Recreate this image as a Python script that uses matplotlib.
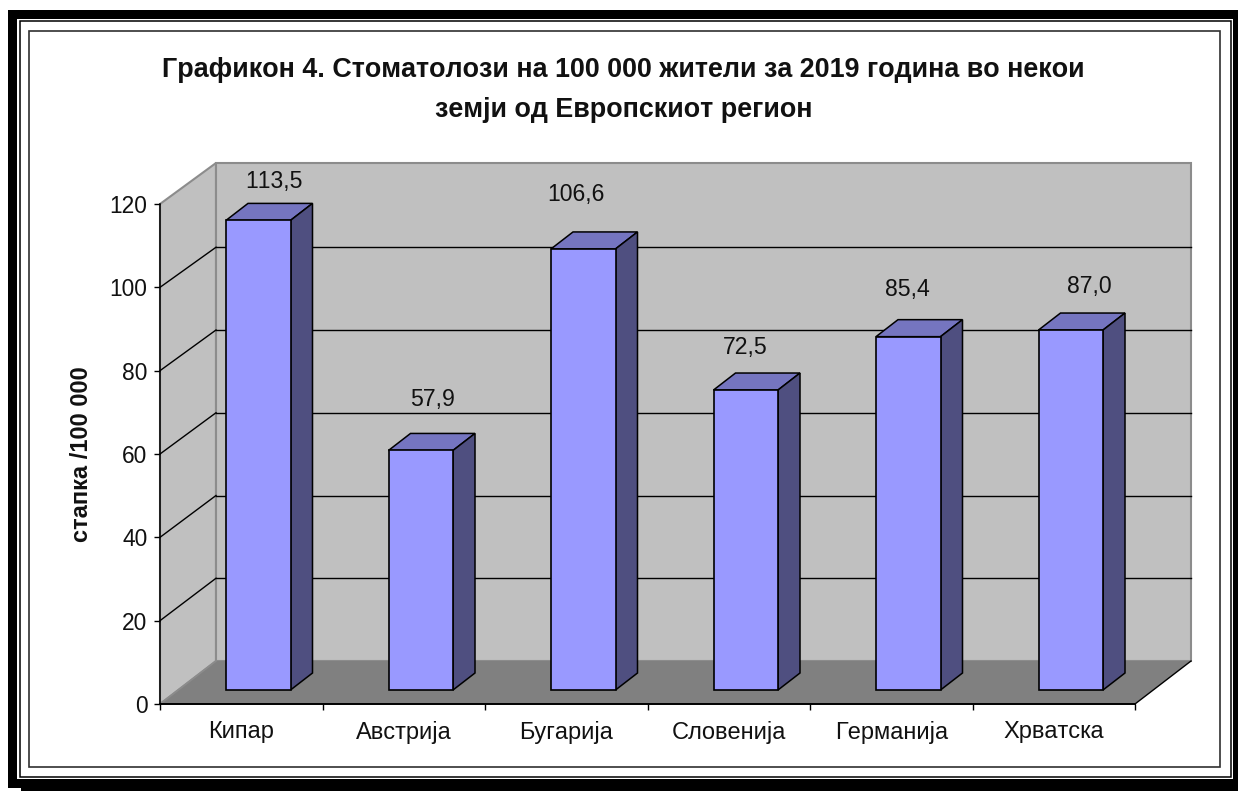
import matplotlib
matplotlib.use("Agg")
import matplotlib.pyplot as plt
from matplotlib.patches import Polygon, Rectangle

countries = ["Кипар", "Австрија", "Бугарија", "Словенија", "Германија", "Хрватска"]
values = [113.5, 57.9, 106.6, 72.5, 85.4, 87.0]
valueLabels = ["113,5", "57,9", "106,6", "72,5", "85,4", "87,0"]
yTicks = [0, 20, 40, 60, 80, 100, 120]

titleText = "Графикон 4. Стоматолози на 100 000 жители за 2019 година во некои\nземји од Европскиот регион"
yLabelText = "стапка /100 000"

# hand placed data labels, pixels relative to the top edge of the bar front
labelShiftX = [16, 12, -7, -1, -1, 19]
labelShiftY = [39, 51, 54, 43, 47, 44]

plt.rcParams["font.family"] = ["Liberation Sans", "DejaVu Sans"]
plt.rcParams["text.kerning_factor"] = 6

W = 1238
H = 791

# plot box in pixels, front plane of the 3d look
left = 160
right = 1135
top = 204
bottom = 704

pxX = (right - left) / 6
pxY = (bottom - top) / 120

wallDx = 56 / pxX
wallDy = 43 / pxY
wallTopDy = 41 / pxY
barW = 64.5 / pxX
barShiftX = 17 / pxX
barShiftY = 14 / pxY
barDx = 22 / pxX
barDy = 17 / pxY
depthScale = 0.993

wallColor = "#c0c0c0"
floorColor = "#808080"
frontColor = "#9999ff"
topColor = "#7575c0"
sideColor = "#4f4f80"
edgeGray = "#8c8c8c"
textColor = "#111111"


def drawFrame(fig):
    bg = fig.add_axes([0, 0, 1, 1])
    bg.set_xlim(0, W)
    bg.set_ylim(H, 0)
    bg.axis("off")

    def box(x0, y0, x1, y1, color):
        bg.add_patch(Rectangle((x0, y0), x1 - x0, y1 - y0, facecolor=color, edgecolor="none"))

    # thick black border with a shadow step at the bottom left
    box(8, 10, 1238, 19.3, "black")
    box(8, 10, 17.3, 788, "black")
    box(21, 779, 1238, 791, "black")
    box(8, 779, 21, 788, "black")
    box(1233, 10, 1238, 791, "black")

    # thin line inside the border
    bg.add_patch(Rectangle((19.8, 21.3), 1210.8, 755.4, facecolor="white", edgecolor="black", linewidth=1.1))
    # chart area
    bg.add_patch(Rectangle((29.2, 30.5), 1190.6, 736.8, facecolor="white", edgecolor="#303030", linewidth=1.2))

    bg.text(623.5, 90, titleText, ha="center", va="center", fontsize=19.4, fontweight="bold",
            color=textColor, linespacing=1.73)
    bg.text(81, 454, yLabelText, ha="center", va="center", rotation=90, fontsize=17,
            fontweight="bold", color=textColor)


def drawWalls(ax):
    n = len(countries)
    ymax = yTicks[-1]

    ax.add_patch(Polygon([(0, 0), (0, ymax), (wallDx, ymax + wallTopDy), (wallDx, wallDy)],
                         facecolor=wallColor, edgecolor=edgeGray, linewidth=1.5, clip_on=False, zorder=1))
    ax.add_patch(Polygon([(wallDx, wallDy), (wallDx, ymax + wallTopDy), (n + wallDx, ymax + wallTopDy), (n + wallDx, wallDy)],
                         facecolor=wallColor, edgecolor=edgeGray, linewidth=1.5, clip_on=False, zorder=1))
    ax.add_patch(Polygon([(0, 0), (n, 0), (n + wallDx, wallDy), (wallDx, wallDy)],
                         facecolor=floorColor, edgecolor="none", clip_on=False, zorder=2))

    ax.plot([0, wallDx], [0, wallDy], color=edgeGray, linewidth=1.2, clip_on=False, zorder=3)
    ax.plot([n, n + wallDx], [0, wallDy], color="black", linewidth=1.0, clip_on=False, zorder=3)

    # gridlines run over the side wall and then along the back
    for v in yTicks[1:-1]:
        back = wallDy + v * depthScale
        ax.plot([0, wallDx], [v, back], color="black", linewidth=1.0, clip_on=False, zorder=3)
        ax.plot([wallDx, n + wallDx], [back, back], color="black", linewidth=1.0, clip_on=False, zorder=3)


def drawBars(ax):
    for i, v in enumerate(values):
        x0 = i + 0.5 + barShiftX - barW / 2
        x1 = x0 + barW
        y0 = barShiftY
        y1 = y0 + v * depthScale

        ax.add_patch(Polygon([(x0, y1), (x1, y1), (x1 + barDx, y1 + barDy), (x0 + barDx, y1 + barDy)],
                             facecolor=topColor, edgecolor="black", linewidth=1.1, clip_on=False, zorder=4))
        ax.add_patch(Polygon([(x1, y0), (x1 + barDx, y0 + barDy), (x1 + barDx, y1 + barDy), (x1, y1)],
                             facecolor=sideColor, edgecolor="black", linewidth=1.1, clip_on=False, zorder=4))
        ax.add_patch(Rectangle((x0, y0), barW, y1 - y0, facecolor=frontColor, edgecolor="black",
                               linewidth=1.2, clip_on=False, zorder=5))

        ax.annotate(valueLabels[i], xy=(x0 + barW / 2, y1),
                    xytext=(labelShiftX[i], labelShiftY[i]), textcoords="offset pixels",
                    ha="center", va="center", fontsize=16.6, color=textColor, zorder=6)


def plotChart():
    fig = plt.figure(figsize=(W / 100, H / 100), dpi=100, facecolor="white")
    drawFrame(fig)

    ax = fig.add_axes([left / W, 1 - bottom / H, (right - left) / W, (bottom - top) / H])
    ax.patch.set_visible(False)
    ax.set_xlim(0, len(countries))
    ax.set_ylim(yTicks[0], yTicks[-1])

    drawWalls(ax)
    drawBars(ax)

    ax.spines["top"].set_visible(False)
    ax.spines["right"].set_visible(False)
    ax.spines["left"].set_linewidth(1.1)
    ax.spines["bottom"].set_linewidth(1.4)
    ax.spines["left"].set_zorder(7)
    ax.spines["bottom"].set_zorder(7)

    ax.set_yticks(yTicks)
    ax.tick_params(axis="y", length=4, width=1.0, pad=5, labelsize=16.4, labelcolor=textColor)

    # ticks on the category borders, names in the middle
    ax.set_xticks(range(len(countries) + 1))
    ax.set_xticklabels([])
    ax.set_xticks([i + 0.5 for i in range(len(countries))], minor=True)
    ax.set_xticklabels(countries, minor=True)
    ax.tick_params(axis="x", which="major", length=4, width=1.0)
    ax.tick_params(axis="x", which="minor", length=0, pad=12.5, labelsize=17, labelcolor=textColor)

    fig.savefig("out.png", dpi=100)


if __name__ == "__main__":
    plotChart()
